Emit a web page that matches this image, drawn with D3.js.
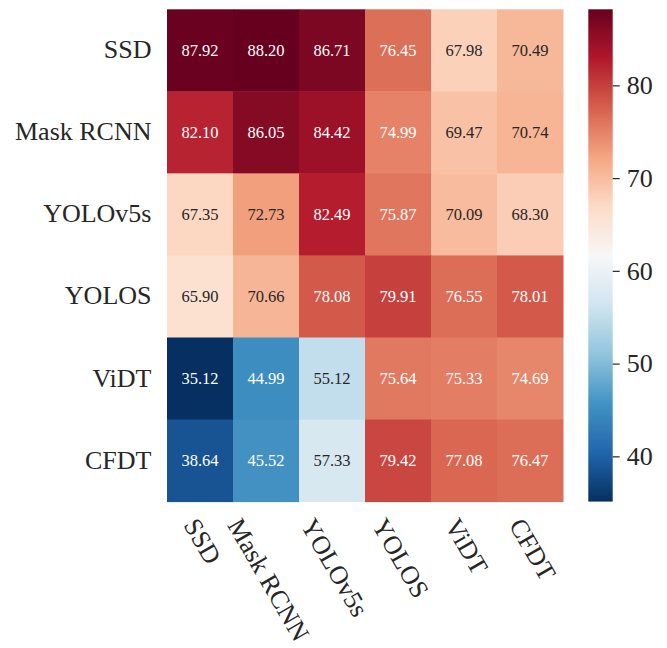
<!DOCTYPE html>
<html>
<head>
<meta charset="utf-8">
<script src="https://cdn.jsdelivr.net/npm/d3@7"></script>
<style>
  body { margin: 0; background: #fff; }
  text { font-family: "Liberation Serif", "DejaVu Serif", serif; }
</style>
</head>
<body>
<div id="chart"></div>
<script>

  ///////////////////////////////// Data /////////////////////////////////
  var rowNames = ["SSD", "Mask RCNN", "YOLOv5s", "YOLOS", "ViDT", "CFDT"]
  var colNames = ["SSD", "Mask RCNN", "YOLOv5s", "YOLOS", "ViDT", "CFDT"]
  var rowSSD      = [87.92, 88.20, 86.71, 76.45, 67.98, 70.49]
  var rowMaskRCNN = [82.10, 86.05, 84.42, 74.99, 69.47, 70.74]
  var rowYOLOv5s  = [67.35, 72.73, 82.49, 75.87, 70.09, 68.30]
  var rowYOLOS    = [65.90, 70.66, 78.08, 79.91, 76.55, 78.01]
  var rowViDT     = [35.12, 44.99, 55.12, 75.64, 75.33, 74.69]
  var rowCFDT     = [38.64, 45.52, 57.33, 79.42, 77.08, 76.47]
  var colorbarTicks = [40, 50, 60, 70, 80]

  var matrix = [rowSSD, rowMaskRCNN, rowYOLOv5s, rowYOLOS, rowViDT, rowCFDT]

  //////////////////////////////// Layout ////////////////////////////////
  var W = 667, H = 648
  var hm = { left: 167, right: 563, top: 9.3, bottom: 501.6 }
  var cb = { left: 588.3, right: 612.7 }

  var cells = []
  matrix.forEach((row, i) => {
    row.forEach((v, j) => cells.push({ r: rowNames[i], c: colNames[j], ri: i, ci: j, value: v }))
  })

  var vmin = d3.min(cells, d => d.value)
  var vmax = d3.max(cells, d => d.value)

  // matplotlib RdBu_r anchor colours
  var rdbu = ["#053061", "#2166ac", "#4393c3", "#92c5de", "#d1e5f0", "#f7f7f7",
              "#fddbc7", "#f4a582", "#d6604d", "#b2182b", "#67001f"]
  var color = d3.scaleLinear()
    .domain(rdbu.map((d, i) => vmin + (vmax - vmin) * i / (rdbu.length - 1)))
    .range(rdbu)
    .interpolate(d3.interpolateRgb)
    .clamp(true)

  var x = d3.scaleBand().domain(colNames).range([hm.left, hm.right])
  var y = d3.scaleBand().domain(rowNames).range([hm.top, hm.bottom])
  var cy = d3.scaleLinear().domain([vmin, vmax]).range([hm.bottom, hm.top])

  var svg = d3.select("#chart").append("svg")
    .attr("width", W)
    .attr("height", H)

  //////////////////////////////// Cells /////////////////////////////////
  svg.append("g").selectAll("rect")
    .data(cells)
    .join("rect")
      .attr("x", d => x(d.c))
      .attr("y", d => y(d.r))
      .attr("width", x.bandwidth() + 0.5)
      .attr("height", y.bandwidth() + 0.5)
      .attr("fill", d => color(d.value))

  // seaborn-style annotation colour by luminance
  function lum(c) {
    var rgb = d3.rgb(c)
    var f = v => { v = v / 255; return v <= 0.03928 ? v / 12.92 : Math.pow((v + 0.055) / 1.055, 2.4) }
    return 0.2126 * f(rgb.r) + 0.7152 * f(rgb.g) + 0.0722 * f(rgb.b)
  }

  svg.append("g").selectAll("text")
    .data(cells)
    .join("text")
      .attr("x", d => x(d.c) + x.bandwidth() / 2)
      .attr("y", d => y(d.r) + y.bandwidth() / 2 + 5.5)
      .attr("text-anchor", "middle")
      .attr("font-size", "16.5px")
      .attr("fill", d => lum(color(d.value)) > 0.408 ? "#262626" : "#ffffff")
      .text(d => d.value.toFixed(2))

  ////////////////////////////// Row labels //////////////////////////////
  svg.append("g").selectAll("text")
    .data(rowNames)
    .join("text")
      .attr("x", hm.left - 15.5)
      .attr("y", d => y(d) + y.bandwidth() / 2 + 8)
      .attr("text-anchor", "end")
      .attr("font-size", "26px")
      .attr("fill", "#262626")
      .text(d => d)

  ////////////////////////////// Col labels //////////////////////////////
  var colLabels = svg.append("g").selectAll("text")
    .data(colNames)
    .join("text")
      .attr("font-size", "26px")
      .attr("fill", "#262626")
      .text(d => d)

  // centre the rotated box on the tick (rotation 60deg)
  colLabels.each(function (d) {
    var L = this.getComputedTextLength()
    var x0 = x(d) + x.bandwidth() / 2 - 0.25 * L - 5
    var y0 = 525
    d3.select(this)
      .attr("transform", "translate(" + x0 + "," + y0 + ") rotate(60)")
  })

  /////////////////////////////// Colorbar ///////////////////////////////
  var grad = svg.append("defs").append("linearGradient")
    .attr("id", "cbgrad")
    .attr("x1", 0).attr("y1", 1).attr("x2", 0).attr("y2", 0)

  grad.selectAll("stop")
    .data(d3.range(0, 1.0001, 0.02))
    .join("stop")
      .attr("offset", d => d)
      .attr("stop-color", d => color(vmin + d * (vmax - vmin)))

  svg.append("rect")
    .attr("x", cb.left)
    .attr("y", hm.top)
    .attr("width", cb.right - cb.left)
    .attr("height", hm.bottom - hm.top)
    .attr("fill", "url(#cbgrad)")

  var cbAxis = svg.append("g")
    .attr("transform", "translate(" + cb.right + ",0)")
    .call(d3.axisRight(cy).tickValues(colorbarTicks).tickSize(7).tickPadding(7))

  cbAxis.select(".domain").remove()
  cbAxis.selectAll(".tick line").attr("stroke", "#262626").attr("stroke-width", 1.2)
  cbAxis.selectAll(".tick text")
    .attr("font-family", "Liberation Serif")
    .attr("font-size", "26px")
    .attr("fill", "#262626")

</script>
</body>
</html>
